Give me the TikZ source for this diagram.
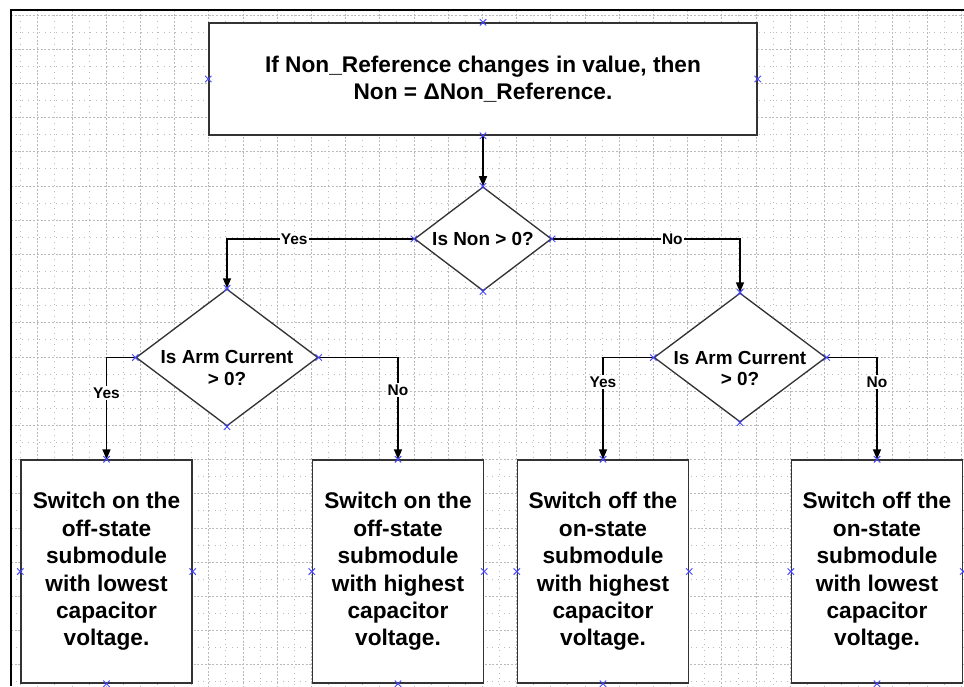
\documentclass[tikz,border=0pt]{standalone}
\usepackage{fontspec}
\setmainfont{Liberation Sans}
\usetikzlibrary{arrows.meta, positioning, shapes.geometric}
\definecolor{cpblue}{RGB}{70,70,255}

\begin{document}
\begin{tikzpicture}[
    x=0.75pt, y=-0.75pt,
    >={Triangle[length=7.5pt,width=6pt]},
    stepbox/.style={rectangle, draw=black!80, line width=1pt, fill=white,
        align=center, font=\fontsize{17}{20.6}\selectfont\bfseries},
    outbox/.style={stepbox, minimum width=128.25pt, minimum height=167.25pt},
    decision/.style={diamond, draw=black!80, line width=1pt, fill=white, inner sep=0pt},
    dectext/.style={align=center, font=\fontsize{14.2}{16.3}\selectfont\bfseries},
    edgelabel/.style={fill=white, inner sep=1pt, font=\fontsize{11.6}{13}\selectfont\bfseries},
    flow/.style={->, line width=1pt},
    majorgrid/.style={black!27, line width=0.75pt, dash pattern=on 1.5pt off 1.3pt},
    minorgrid/.style={black!27, line width=0.75pt, dash pattern=on 0.75pt off 3.5pt},
    cpmark/.style={cpblue, line width=0.7pt}]
        \useasboundingbox (0,0) rectangle (964,686);

        \foreach \i in {0,...,27}
            \draw[minorgrid] ({20.7+34.2*\i},9.8) -- ({20.7+34.2*\i},686);
        \foreach \i in {1,...,28}
            \draw[majorgrid] ({3.6+34.2*\i},9.8) -- ({3.6+34.2*\i},686);
        \foreach \i in {0,...,19}
            \draw[minorgrid] (10.8,{32.1+34.2*\i}) -- (964,{32.1+34.2*\i});
        \foreach \i in {0,...,19}
            \draw[majorgrid] (10.8,{15+34.2*\i}) -- (964,{15+34.2*\i});

        \draw[line width=1.5pt] (10.8,686) -- (10.8,9.8) -- (964,9.8);

        \node[stepbox, minimum width=411pt, minimum height=84pt] (top) at (483,79)
            {If Non\_Reference changes in value, then\\Non = ΔNon\_Reference.};

        \node[decision, minimum width=102.75pt, minimum height=78pt] (dec) [below=37.9pt of top] {};
        \node[dectext] at (dec.center) {Is Non > 0?};

        \node[decision, minimum width=136.5pt, minimum height=102.75pt] (dl) at (227,357.5) {};
        \node[dectext] at ([yshift=-8pt]dl.center) {Is Arm Current\\> 0?};

        \node[decision, minimum width=129pt, minimum height=96.75pt] (dr) at (740,357.5) {};
        \node[dectext] at ([yshift=-8.2pt]dr.center) {Is Arm Current\\> 0?};

        \node[outbox] (b1) at (106.5,571.5)
            {Switch on the\\off-state\\submodule\\with lowest\\capacitor\\voltage.};
        \node[outbox] (b2) at (398,571.5)
            {Switch on the\\off-state\\submodule\\with highest\\capacitor\\voltage.};
        \node[outbox] (b3) at (603,571.5)
            {Switch off the\\on-state\\submodule\\with highest\\capacitor\\voltage.};
        \node[outbox] (b4) at (877,571.5)
            {Switch off the\\on-state\\submodule\\with lowest\\capacitor\\voltage.};

        \draw[flow] (top.south) -- (dec.north);
        \draw[flow] (dec.west) -| node[edgelabel, pos=0.32] {Yes} (dl.north);
        \draw[flow] (dec.east) -| node[edgelabel, pos=0.32] {No} (dr.north);
        \draw[flow] (dl.west) -| node[edgelabel, pos=0.675] {Yes} (b1.north);
        \draw[flow] (dl.east) -| node[edgelabel, pos=0.66] {No} (b2.north);
        \draw[flow] (dr.west) -| node[edgelabel, pos=0.62] {Yes} (b3.north);
        \draw[flow] (dr.east) -| node[edgelabel, pos=0.62] {No} (b4.north);

        \foreach \n in {top,dec,dl,dr,b1,b2,b3,b4}
            \foreach \a in {north,south,east,west}
                \draw[cpmark] (\n.\a) +(-3.2,-3.2) -- +(3.2,3.2) +(-3.2,3.2) -- +(3.2,-3.2);

    \end{tikzpicture}
\end{document}
